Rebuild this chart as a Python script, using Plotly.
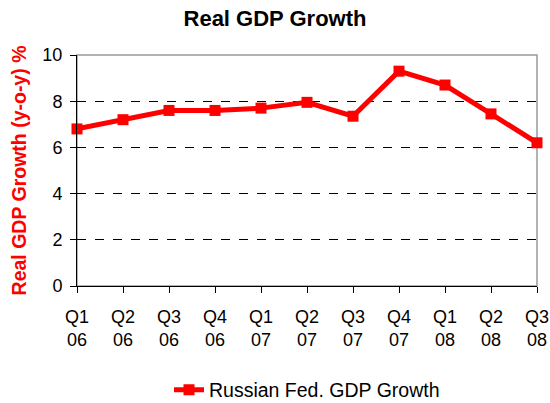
import plotly.graph_objects as go

# Quarterly real GDP growth, year on year (%)
quarters = ["Q1<br>06", "Q2<br>06", "Q3<br>06", "Q4<br>06",
            "Q1<br>07", "Q2<br>07", "Q3<br>07", "Q4<br>07",
            "Q1<br>08", "Q2<br>08", "Q3<br>08"]
gdp_growth = [6.8, 7.2, 7.6, 7.6, 7.7, 7.95, 7.35, 9.3, 8.7, 7.45, 6.2]
y_ticks = [0, 2, 4, 6, 8, 10]

font_family = "Liberation Sans, Arial, sans-serif"

fig = go.Figure()
fig.add_trace(go.Scatter(
    x=list(range(len(quarters))),
    y=gdp_growth,
    mode="lines+markers",
    name="Russian Fed. GDP Growth",
    line=dict(color="#ff0000", width=5),
    marker=dict(symbol="square", size=11, color="#ff0000"),
    cliponaxis=False,
))

fig.update_layout(
    width=550, height=403,
    margin=dict(l=77, r=13, t=55, b=117, autoexpand=False),
    paper_bgcolor="white", plot_bgcolor="white",
    font=dict(family=font_family, size=18, color="black"),
    title=dict(text="<b>Real GDP Growth</b>", x=0.5, xanchor="center",
               y=0.955, yanchor="middle", font=dict(size=22)),
    showlegend=True,
    legend=dict(orientation="h", x=0.5, xanchor="center",
                yref="container", y=0.032, yanchor="middle",
                font=dict(size=19.5)),
    xaxis=dict(
        tickmode="array", tickvals=list(range(len(quarters))), ticktext=quarters,
        range=[0, len(quarters) - 1], showgrid=False, zeroline=False,
        showline=True, linecolor="black", linewidth=1,
        ticks="outside", ticklen=6, tickcolor="black",
        tickfont=dict(size=18), ticklabelstandoff=8, automargin=False,
    ),
    yaxis=dict(
        range=[0, 10], tickvals=y_ticks, showgrid=True,
        gridcolor="black", griddash="dash", gridwidth=1, zeroline=False,
        showline=True, linecolor="black", linewidth=1,
        ticks="outside", ticklen=6, tickcolor="black",
        tickfont=dict(size=18), ticklabelstandoff=4, automargin=False,
        title=dict(text="<b>Real GDP Growth (y-o-y) %</b>",
                   font=dict(size=19.5, color="#ff0000"), standoff=10),
    ),
    shapes=[dict(type="rect", xref="paper", yref="paper", x0=0, y0=0, x1=1, y1=1,
                 line=dict(color="#999999", width=1.5), layer="below")],
)

fig.write_html("out.html")
